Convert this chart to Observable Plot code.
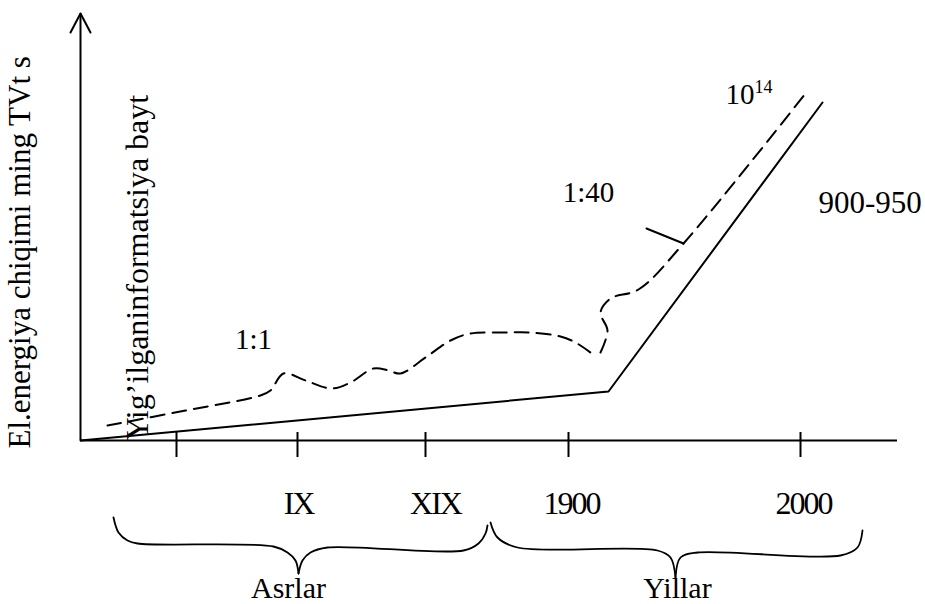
<!DOCTYPE html>
<html>
<head>
<meta charset="utf-8">
<script src="https://cdn.jsdelivr.net/npm/d3@7"></script>
<script src="https://cdn.jsdelivr.net/npm/@observablehq/plot@0.6"></script>
<style>
  html, body { margin: 0; padding: 0; background: #fff; }
  .ticklab text { letter-spacing: -2px; }
</style>
</head>
<body>
<div id="chart"></div>
<script>
// Schematic units: x from the origin to the right, y from the x axis upwards
const electricityLine = [[0, 0], [528, 49], [742, 338]];
const informationPart1 = [
  [27, 15], [105, 30], [180, 45], [190, 50], [203, 67], [225, 60], [251, 52],
  [270, 58], [293, 72], [308, 70], [320, 67], [345, 83], [370, 100], [390, 107],
  [423, 108], [450, 108], [480, 104], [495, 98], [510, 88]
];
const informationPart2 = [
  [520, 88], [527, 110], [520, 128], [530, 142], [558, 151], [603, 197], [725, 347]
];
const pointerMark = [[566, 212], [603, 197]];
const tickPositions = [96, 217, 345, 488, 720];
const tickLabels = ["IX", "XIX", "1900", "2000"];
const tickLabelPositions = [218, 355, 491, 723];
const groupLabels = ["Asrlar", "Yillar"];
const groupLabelPositions = [208, 597];
const braceAsrlarLeft = [[33, -77], [38, -92], [47, -100], [57, -103], [193, -106], [207, -112], [215, -120], [218, -133]];
const braceAsrlarRight = [[218, -133], [222, -120], [230, -112], [247, -107], [383, -110], [398, -103], [405, -93], [407, -85]];
const braceYillarLeft = [[410, -82], [417, -97], [437, -107], [577, -110], [590, -117], [595, -137]];
const braceYillarRight = [[595, -137], [600, -117], [617, -112], [760, -115], [777, -107], [782, -90]];
const ratioLabels = [{text: "1:1", x: 173, y: 92}, {text: "1:40", x: 508, y: 239}];
const yTitle = "El.energiya chiqimi ming TVt s";
const yTitle2 = "Yig\u2019ilganinformatsiya bayt";
const axisArrow = [[-10, 408], [0, 427], [10, 408]];

const font = "Liberation Serif, Times New Roman, serif";
const lineOpts = {x: d => d[0], y: d => d[1], stroke: "#000"};

const chart = Plot.plot({
  width: 925,
  height: 604,
  marginLeft: 80,
  marginRight: 28,
  marginTop: 13,
  marginBottom: 164,
  x: {domain: [0, 817], axis: null},
  y: {domain: [0, 427], axis: null},
  style: {fontFamily: font, background: "#fff", overflow: "visible", color: "#000"},
  marks: [
    // axes
    Plot.ruleY([0], {x1: 0, x2: 817, stroke: "#000", strokeWidth: 2}),
    Plot.ruleX([0], {y1: 0, y2: 427, stroke: "#000", strokeWidth: 2}),
    Plot.line(axisArrow, {...lineOpts, strokeWidth: 2}),
    Plot.ruleX(tickPositions, {x: d => d, y1: 8, y2: -17, stroke: "#000", strokeWidth: 2}),
    // series
    Plot.line(electricityLine, {...lineOpts, strokeWidth: 2}),
    Plot.line(informationPart1, {...lineOpts, strokeWidth: 2, strokeDasharray: "14,8", curve: "catmull-rom"}),
    Plot.line(informationPart2, {...lineOpts, strokeWidth: 2, strokeDasharray: "14,8", curve: "catmull-rom"}),
    Plot.line(pointerMark, {...lineOpts, strokeWidth: 2}),
    // braces
    Plot.line(braceAsrlarLeft, {...lineOpts, strokeWidth: 1.8, curve: "catmull-rom"}),
    Plot.line(braceAsrlarRight, {...lineOpts, strokeWidth: 1.8, curve: "catmull-rom"}),
    Plot.line(braceYillarLeft, {...lineOpts, strokeWidth: 1.8, curve: "catmull-rom"}),
    Plot.line(braceYillarRight, {...lineOpts, strokeWidth: 1.8, curve: "catmull-rom"}),
    // tick labels
    Plot.text(tickLabels, {x: (d, i) => tickLabelPositions[i], y: -73, text: d => d, fontSize: 32, lineAnchor: "bottom", fill: "#000", className: "ticklab"}),
    Plot.text(groupLabels, {x: (d, i) => groupLabelPositions[i], y: -157, text: d => d, fontSize: 30, lineAnchor: "bottom", fill: "#000"}),
    // annotations
    Plot.text(ratioLabels, {x: "x", y: "y", text: "text", fontSize: 29, lineAnchor: "bottom", fill: "#000"}),
    Plot.text(["10"], {x: 645, y: 337, text: d => d, fontSize: 29, textAnchor: "start", lineAnchor: "bottom", fill: "#000"}),
    Plot.text(["14"], {x: 674, y: 348, text: d => d, fontSize: 18, textAnchor: "start", lineAnchor: "bottom", fill: "#000"}),
    Plot.text(["900-950"], {x: 738, y: 228, text: d => d, fontSize: 31, textAnchor: "start", lineAnchor: "bottom", fill: "#000"}),
    // rotated titles
    Plot.text([yTitle], {x: -51, y: -8, text: d => d, rotate: -90, fontSize: 31, textAnchor: "start", lineAnchor: "bottom", fill: "#000"}),
    Plot.text([yTitle2], {x: 67, y: 0, text: d => d, rotate: -90, fontSize: 32, textAnchor: "start", lineAnchor: "bottom", fill: "#000"})
  ]
});
document.getElementById("chart").appendChild(chart);
</script>
</body>
</html>
